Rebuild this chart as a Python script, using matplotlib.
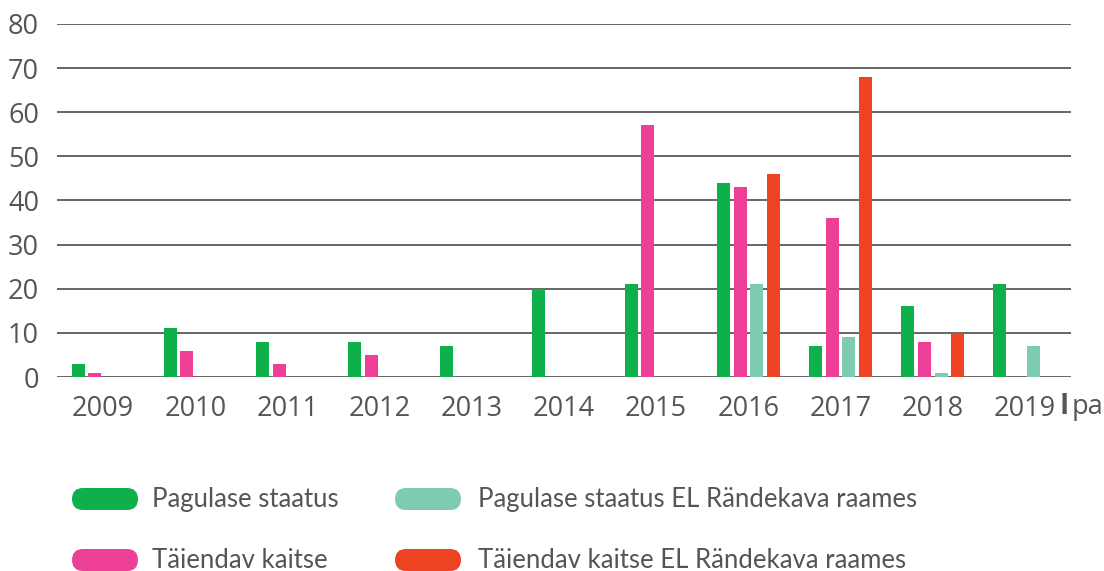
import matplotlib
matplotlib.use("Agg")
import matplotlib.pyplot as plt
from matplotlib.patches import FancyBboxPatch
import numpy as np

years = ["2009", "2010", "2011", "2012", "2013", "2014", "2015", "2016", "2017", "2018", "2019"]
pagulase = [3, 11, 8, 8, 7, 20, 21, 44, 7, 16, 21]
taiendav = [1, 6, 3, 5, 0, 0, 57, 43, 36, 8, 0]
pagulase_el = [0, 0, 0, 0, 0, 0, 0, 21, 9, 1, 7]
taiendav_el = [0, 0, 0, 0, 0, 0, 0, 46, 68, 10, 0]
yticks = [0, 10, 20, 30, 40, 50, 60, 70, 80]

series = [
    ("Pagulase staatus", pagulase, "#0DB04B"),
    ("Täiendav kaitse", taiendav, "#EE3F96"),
    ("Pagulase staatus EL Rändekava raames", pagulase_el, "#7FCBAF"),
    ("Täiendav kaitse EL Rändekava raames", taiendav_el, "#EE4423"),
]

plt.rcParams['font.family'] = ['Open Sans', 'DejaVu Sans']
fig = plt.figure(figsize=(11.04, 5.71), dpi=100)
W, H = 1104, 571
ax = fig.add_axes([57 / W, (H - 377) / H, (1071 - 57) / W, (377 - 24) / H])

x = np.arange(len(years)) + 0.5
step = 0.181
width = 0.141
for i, (name, vals, col) in enumerate(series):
    offs = (i - 1.5) * step
    ax.bar(x + offs, vals, width=width, color=col, zorder=3)

ax.set_xlim(0, len(years))
ax.set_ylim(0, 80)
ax.set_yticks(yticks)
ax.set_yticklabels([str(t) for t in yticks])
ax.set_xticks(x)
ax.set_xticklabels(years)
for t in yticks:
    ax.axhline(t, color="#666666", lw=1.4, zorder=1)
for s in ax.spines.values():
    s.set_visible(False)
ax.tick_params(axis="both", length=0, labelsize=19.5, colors="#555555")
ax.tick_params(axis="y", pad=13)
ax.tick_params(axis="x", pad=13)

# "I pa" suffix after 2019
fig.text(1060 / W, 1 - 407 / H, "I", fontsize=20, fontweight="bold", color="#555555", va="center", ha="left")
fig.text(1072 / W, 1 - 407 / H, "pa", fontsize=19.5, color="#555555", va="center", ha="left")

# Legend (manual)
legend_items = [
    (72, 499, "Pagulase staatus", "#0DB04B", 152),
    (395, 499, "Pagulase staatus EL Rändekava raames", "#7FCBAF", 478),
    (72, 560, "Täiendav kaitse", "#EE3F96", 152),
    (395, 560, "Täiendav kaitse EL Rändekava raames", "#EE4423", 478),
]
for px, py, label, col, tx in legend_items:
    w, h = 66, 22
    patch = FancyBboxPatch(((px) / W, 1 - (py + h / 2) / H), w / W, h / H,
                           boxstyle="round,pad=0,rounding_size=0.01",
                           transform=fig.transFigure, facecolor=col, edgecolor="none",
                           mutation_aspect=W / H)
    fig.patches.append(patch)
    fig.text(tx / W, 1 - py / H, label, fontsize=18.5, color="#555555", va="center", ha="left",
             family=['Lato', 'DejaVu Sans'])

fig.savefig("out.png", dpi=100)
